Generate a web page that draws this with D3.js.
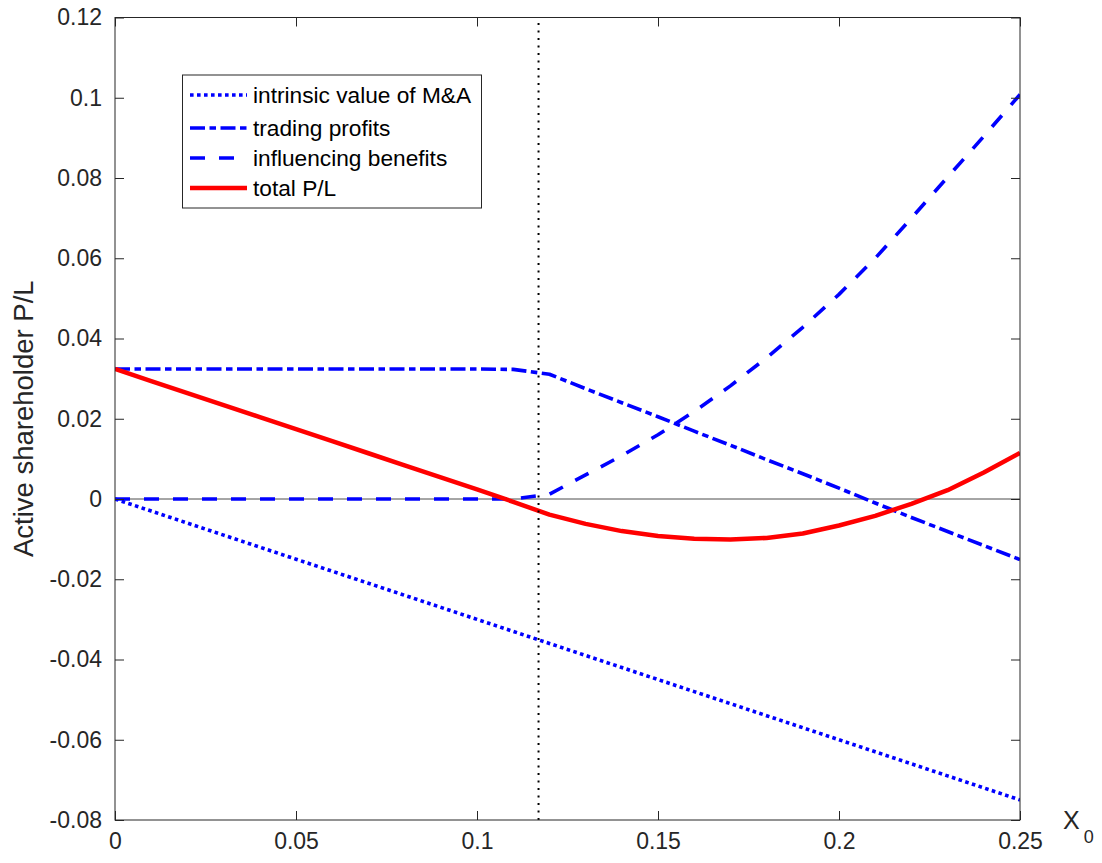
<!DOCTYPE html>
<html>
<head>
<meta charset="utf-8">
<script src="https://cdn.jsdelivr.net/npm/d3@7"></script>
<style>
  html, body { margin: 0; padding: 0; background: #fff; }
  svg { display: block; font-family: "Liberation Sans", Arial, Helvetica, sans-serif; }
</style>
</head>
<body>
<svg id="chart" width="1102" height="863"></svg>
<script>
// ---- data ----
const xValues = [0, 0.01, 0.02, 0.03, 0.04, 0.05, 0.06, 0.07, 0.08, 0.09, 0.10, 0.11, 0.12,
                 0.13, 0.14, 0.15, 0.16, 0.17, 0.18, 0.19, 0.20, 0.21, 0.22, 0.23, 0.24, 0.25];
const intrinsicValue = [0, -0.003, -0.006, -0.009, -0.012, -0.015, -0.018, -0.021, -0.024, -0.027,
                        -0.030, -0.033, -0.036, -0.039, -0.042, -0.045, -0.048, -0.051, -0.054,
                        -0.057, -0.060, -0.063, -0.066, -0.069, -0.072, -0.075];
const tradingProfits = [0.0324, 0.0324, 0.0324, 0.0324, 0.0324, 0.0324, 0.0324, 0.0324, 0.0324,
                        0.0324, 0.0324, 0.0323, 0.0311, 0.0275, 0.0240, 0.0205, 0.0169, 0.0134,
                        0.0098, 0.0063, 0.0027, -0.0010, -0.0046, -0.0081, -0.0116, -0.0151];
const influencingBenefits = [0, 0, 0, 0, 0, 0, 0, 0, 0, 0, 0, 0, 0.0012, 0.0060, 0.0108, 0.0160,
                             0.0218, 0.0282, 0.0352, 0.0428, 0.0510, 0.0600, 0.0700, 0.0802,
                             0.0904, 0.1008];
const totalPL = [0.0324, 0.0294, 0.0264, 0.0234, 0.0204, 0.0174, 0.0144, 0.0114, 0.0084, 0.0054,
                 0.0024, -0.0007, -0.0039, -0.0062, -0.0080, -0.0092, -0.0099, -0.0101, -0.0097,
                 -0.0086, -0.0066, -0.0042, -0.0012, 0.0022, 0.0066, 0.0115];
const thresholdX = 0.117;
const xTicks = [0, 0.05, 0.1, 0.15, 0.2, 0.25];
const yTicks = [-0.08, -0.06, -0.04, -0.02, 0, 0.02, 0.04, 0.06, 0.08, 0.1, 0.12];
const xTickLabels = ["0", "0.05", "0.1", "0.15", "0.2", "0.25"];
const yTickLabels = ["-0.08", "-0.06", "-0.04", "-0.02", "0", "0.02", "0.04", "0.06", "0.08", "0.1", "0.12"];
const seriesNames = ["intrinsic value of M&A", "trading profits", "influencing benefits", "total P/L"];
const yLabel = "Active shareholder P/L";

// ---- layout ----
const L = 115, R = 1020, T = 17.5, B = 820;
const axisColor = "#262626";
const svg = d3.select("#chart");
const x = d3.scaleLinear().domain([0, 0.25]).range([L, R]);
const y = d3.scaleLinear().domain([-0.08, 0.12]).range([B, T]);

const series = [
  { name: seriesNames[0], values: intrinsicValue, color: "#0000ff", width: 3.6, dash: "3.6,3.4" },
  { name: seriesNames[1], values: tradingProfits, color: "#0000ff", width: 3.6, dash: "15,4.5,6.5,4.5" },
  { name: seriesNames[2], values: influencingBenefits, color: "#0000ff", width: 3.6, dash: "15,14" },
  { name: seriesNames[3], values: totalPL, color: "#ff0000", width: 4.5, dash: null }
];

svg.append("clipPath").attr("id", "clip")
  .append("rect").attr("x", L).attr("y", T).attr("width", R - L).attr("height", B - T);

const plot = svg.append("g").attr("clip-path", "url(#clip)");

// zero line
plot.append("line")
  .attr("x1", x(0)).attr("x2", x(0.25)).attr("y1", y(0)).attr("y2", y(0))
  .attr("stroke", "#000").attr("stroke-width", 1).attr("stroke-opacity", 0.7);

// curves
const line = d3.line().x((d, i) => x(xValues[i])).y(d => y(d));
series.forEach(s => {
  plot.append("path")
    .datum(s.values)
    .attr("d", line)
    .attr("fill", "none")
    .attr("stroke", s.color)
    .attr("stroke-width", s.width)
    .attr("stroke-dasharray", s.dash)
    .attr("stroke-linejoin", "round");
});

// vertical dotted threshold line
plot.append("line")
  .attr("x1", x(thresholdX)).attr("x2", x(thresholdX)).attr("y1", B).attr("y2", T)
  .attr("stroke", "#000").attr("stroke-width", 2).attr("stroke-dasharray", "2,5.5");

// axes box
svg.append("rect").attr("x", L).attr("y", T).attr("width", R - L).attr("height", B - T)
  .attr("fill", "none").attr("stroke", axisColor).attr("stroke-width", 1);

const tickLen = 9;
const yAxisL = d3.axisLeft(y).tickValues(yTicks).tickSize(-tickLen).tickPadding(13)
  .tickFormat((d, i) => yTickLabels[i]);
const yAxisR = d3.axisRight(y).tickValues(yTicks).tickSize(-tickLen).tickFormat("");
const xAxisB = d3.axisBottom(x).tickValues(xTicks).tickSize(-tickLen).tickPadding(13)
  .tickFormat((d, i) => xTickLabels[i]);
const xAxisT = d3.axisTop(x).tickValues(xTicks).tickSize(-tickLen).tickFormat("");

function styleAxis(g) {
  g.select(".domain").remove();
  g.selectAll(".tick line").attr("stroke", axisColor);
  g.selectAll(".tick text").attr("fill", axisColor).style("font-size", "23px")
    .style("font-family", "'Liberation Sans', Arial, sans-serif");
}
svg.append("g").attr("transform", `translate(${L},0)`).call(yAxisL).call(styleAxis);
svg.append("g").attr("transform", `translate(${R},0)`).call(yAxisR).call(styleAxis);
svg.append("g").attr("transform", `translate(0,${B})`).call(xAxisB).call(styleAxis);
svg.append("g").attr("transform", `translate(0,${T})`).call(xAxisT).call(styleAxis);

// y label
svg.append("text")
  .attr("transform", `translate(33,${(T + B) / 2}) rotate(-90)`)
  .attr("text-anchor", "middle")
  .attr("fill", axisColor)
  .style("font-size", "27.5px")
  .text(yLabel);

// x label X_0
const xl = svg.append("text").attr("x", 1063).attr("y", 829).attr("fill", axisColor)
  .style("font-size", "25px");
xl.append("tspan").text("X");
xl.append("tspan").attr("dx", 4).attr("dy", 14).style("font-size", "18px").text("0");

// legend
const lg = svg.append("g");
lg.append("rect").attr("x", 182.5).attr("y", 75).attr("width", 299).attr("height", 133)
  .attr("fill", "#fff").attr("stroke", axisColor).attr("stroke-width", 1);
const rowY = [95, 128, 158, 188];
series.forEach((s, i) => {
  lg.append("line")
    .attr("x1", 190).attr("x2", 247).attr("y1", rowY[i]).attr("y2", rowY[i])
    .attr("stroke", s.color).attr("stroke-width", s.width).attr("stroke-dasharray", s.dash);
  lg.append("text").attr("x", 253).attr("y", rowY[i]).attr("dy", "0.35em")
    .attr("fill", "#000").style("font-size", "22.7px").text(s.name);
});
</script>
</body>
</html>
